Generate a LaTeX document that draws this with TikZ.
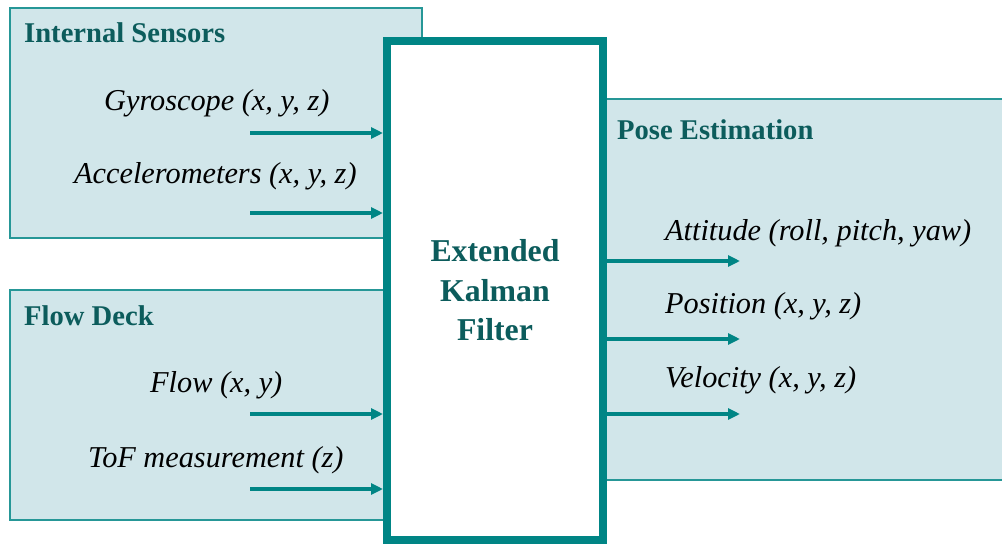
\documentclass[tikz,border=0pt]{standalone}
\usepackage{fontspec}
\setmainfont{Liberation Serif}
\usetikzlibrary{arrows.meta}
\definecolor{tealline}{RGB}{0,133,133}
\definecolor{panelfill}{RGB}{209,230,234}
\definecolor{titletxt}{RGB}{12,92,92}
\tikzset{
  x=1pt, y=-1pt,
  panel/.style={draw=tealline!85, fill=panelfill, line width=1.6pt, anchor=north west, inner sep=0pt, outer sep=0pt},
  ptitle/.style={anchor=base west, inner sep=0pt, font=\fontsize{28.6}{34}\selectfont\bfseries, text=titletxt},
  sig/.style={anchor=base west, inner sep=0pt, font=\fontsize{30.3}{34}\selectfont\itshape, text=black},
  flow/.style={draw=tealline, line width=3.2pt, -{Triangle[length=12pt,width=11pt]}},
  ekfbox/.style={draw=tealline, fill=white, line width=8pt, minimum width=216pt, minimum height=499pt, inner sep=0pt, align=center, font=\fontsize{31.8}{39.5}\selectfont\bfseries, text=titletxt}
}
\begin{document}
\begin{tikzpicture}
\path[use as bounding box, clip] (0,0) rectangle (1002,544);
\fill[white] (0,0) rectangle (1002,544);
% panels
\node[panel, minimum width=412pt, minimum height=230pt] (ins) at (10,8) {};
\node[panel, minimum width=390pt, minimum height=230pt] (fd) at (10,290) {};
\node[panel, minimum width=410pt, minimum height=381pt] (pe) at (600,99) {};
% EKF
\node[ekfbox] (ekf) at (495,290.5) {Extended\\Kalman\\Filter};
% titles
\node[ptitle] (tins) at (24,42) {Internal Sensors};
\node[ptitle] (tfd) at (24,325) {Flow Deck};
\node[ptitle] (tpe) at (617,139) {Pose Estimation};
% signal labels
\node[sig] (lg) at (104,110) {Gyroscope (x, y, z)};
\node[sig] (la) at (74,183) {Accelerometers (x, y, z)};
\node[sig] (lf) at (150,392) {Flow (x, y)};
\node[sig] (lt) at (88,467) {ToF measurement (z)};
\node[sig] (lat) at (665,240) {Attitude (roll, pitch, yaw)};
\node[sig] (lpo) at (665,313) {Position (x, y, z)};
\node[sig] (lve) at (665,387) {Velocity (x, y, z)};
% arrow tails / heads
\coordinate (g0) at (250,133);
\coordinate (a0) at (250,213);
\coordinate (f0) at (250,414);
\coordinate (t0) at (250,489);
\coordinate (o1) at (740,261);
\coordinate (o2) at (740,339);
\coordinate (o3) at (740,414);
\draw[flow] (g0) -- (g0 -| ekf.west);
\draw[flow] (a0) -- (a0 -| ekf.west);
\draw[flow] (f0) -- (f0 -| ekf.west);
\draw[flow] (t0) -- (t0 -| ekf.west);
\draw[flow] (o1 -| ekf.east) -- (o1);
\draw[flow] (o2 -| ekf.east) -- (o2);
\draw[flow] (o3 -| ekf.east) -- (o3);
\end{tikzpicture}
\end{document}
